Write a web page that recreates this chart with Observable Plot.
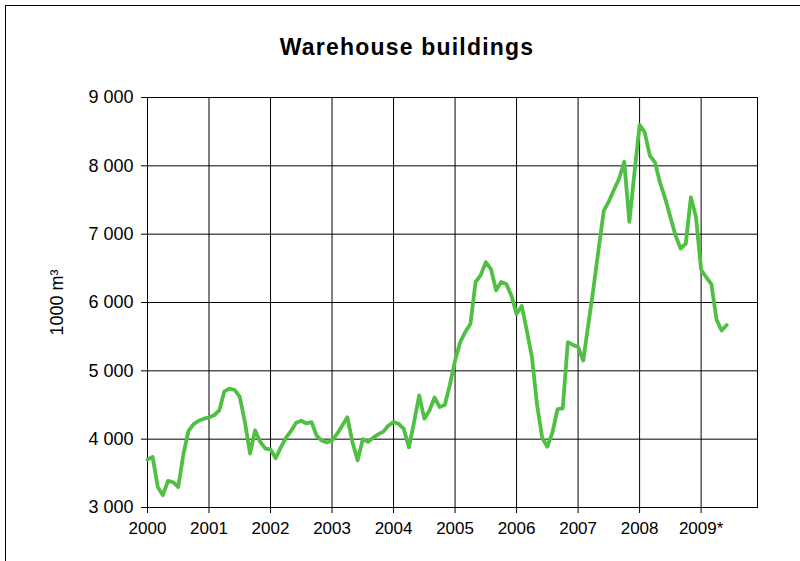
<!DOCTYPE html>
<html>
<head>
<meta charset="utf-8">
<script src="https://cdn.jsdelivr.net/npm/d3@7"></script>
<script src="https://cdn.jsdelivr.net/npm/@observablehq/plot@0.6"></script>
<style>
  html, body { margin: 0; padding: 0; background: #fff; width: 800px; height: 561px; overflow: hidden; }
  #frame { position: absolute; left: 5px; top: 5px; width: 820px; height: 600px;
           border-left: 1px solid #000; border-top: 1px solid #000; }
  #title { height: 82px; line-height: 82px; width: 802px; text-align: center;
           font-family: "Liberation Sans", Arial, sans-serif; font-weight: bold; font-size: 23px;
           letter-spacing: 1.2px; color: #000; }
</style>
</head>
<body>
<div id="frame">
  <div id="title">Warehouse buildings</div>
  <div id="chart"></div>
</div>
<script>
// Monthly values, 1000 m³, Jan 2000 .. Jun 2009
const startYear = 2000;
const values = [
  3700, 3740, 3300, 3180, 3390, 3370, 3300, 3780, 4120, 4220, 4270, 4300,
  4320, 4350, 4420, 4700, 4740, 4720, 4620, 4250, 3790, 4130, 3960, 3860,
  3850, 3720, 3880, 4020, 4120, 4240, 4270, 4230, 4250, 4050, 3980, 3950,
  3980, 4080, 4200, 4320, 3950, 3690, 4000, 3960, 4020, 4070, 4110, 4200,
  4250, 4225, 4150, 3880, 4250, 4640, 4300, 4420, 4610, 4470, 4500, 4800,
  5150, 5420, 5570, 5690, 6300, 6400, 6590, 6490, 6180, 6300, 6270, 6100,
  5830, 5950, 5590, 5200, 4500, 4020, 3890, 4100, 4440, 4450, 5420, 5380,
  5350, 5150, 5680, 6210, 6780, 7340, 7480, 7650, 7810, 8060, 7180, 7900,
  8600, 8490, 8150, 8050, 7750, 7520, 7250, 6980, 6790, 6860, 7540, 7250,
  6480, 6370, 6270, 5750, 5590, 5670
];
const xTickLabels = ["2000", "2001", "2002", "2003", "2004", "2005", "2006", "2007", "2008", "2009*"];
const yTicks = [3000, 4000, 5000, 6000, 7000, 8000, 9000];
const yLabel = "1000 m³";

const data = values.map((v, i) => ({month: i, value: v}));
const xTicks = xTickLabels.map((_, k) => k * 12);
const fmt = v => d3.format(",")(v).replace(/,/g, " ");

const chart = Plot.plot({
  width: 794,
  height: 473,
  marginLeft: 141,
  marginRight: 43,
  marginTop: 9,
  marginBottom: 54,
  style: {fontFamily: "'Liberation Sans', Arial, sans-serif", fontSize: "17px", color: "#000", background: "#fff"},
  x: {type: "linear", domain: [0, 119]},
  y: {domain: [3000, 9000]},
  marks: [
    Plot.gridY(yTicks, {stroke: "#000", strokeOpacity: 1, strokeWidth: 1}),
    Plot.gridX(xTicks, {stroke: "#000", strokeOpacity: 1, strokeWidth: 1}),
    Plot.frame({stroke: "#000", strokeWidth: 1}),
    Plot.axisY({ticks: yTicks, tickFormat: fmt, tickSize: 6, tickPadding: 8, stroke: "#000",
                label: yLabel, labelAnchor: "center", labelArrow: "none", labelOffset: 97, fontSize: 18}),
    Plot.axisX({ticks: xTicks, tickFormat: d => xTickLabels[d / 12], tickSize: 6, tickPadding: 8,
                stroke: "#000", label: null, fontSize: 17}),
    Plot.line(data, {x: "month", y: "value", stroke: "#4fc043", strokeWidth: 3.8, strokeLinejoin: "round"})
  ]
});
document.getElementById("chart").appendChild(chart);
</script>
</body>
</html>
